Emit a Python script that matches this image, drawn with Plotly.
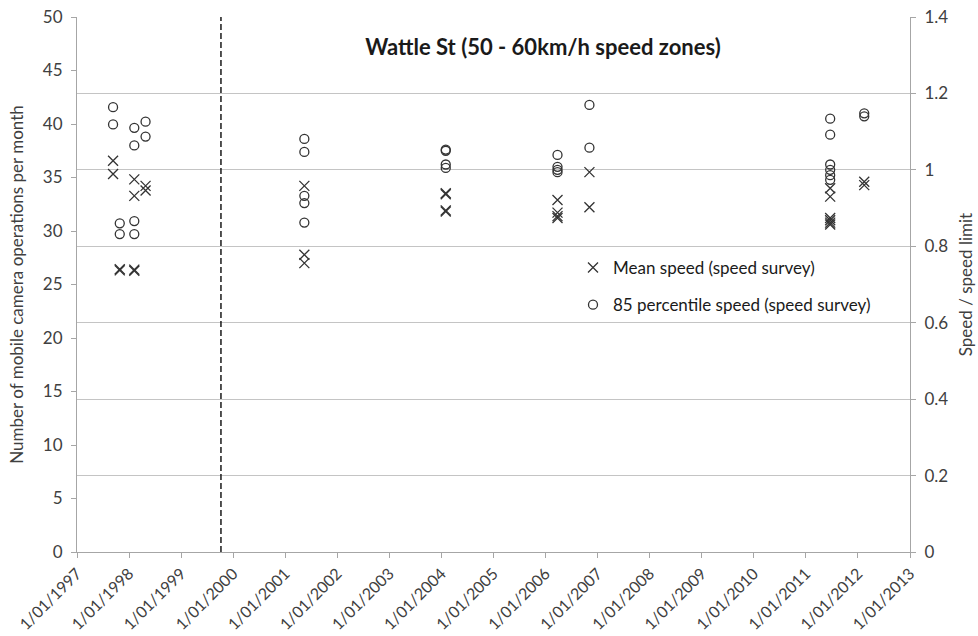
import plotly.graph_objects as go

# ---------------- data ----------------
mean_dates = (["1997-09-11"] * 2 + ["1997-10-28"] * 2 + ["1998-02-07"] * 4 + ["1998-04-27"] * 2 +
              ["2001-05-15"] * 3 + ["2004-02-01"] * 4 + ["2006-03-26"] * 4 + ["2006-11-05"] * 2 +
              ["2011-06-21"] * 6 + ["2012-02-15"] * 2)
mean_ratio = [1.024, 0.989,
              0.740, 0.737,
              0.975, 0.932, 0.739, 0.736,
              0.958, 0.946,
              0.958, 0.778, 0.756,
              0.939, 0.936, 0.894, 0.891,
              0.921, 0.888, 0.879, 0.874,
              0.994, 0.902,
              0.952, 0.930, 0.874, 0.868, 0.862, 0.857,
              0.969, 0.960]

p85_dates = (["1997-09-11"] * 2 + ["1997-10-28"] * 2 + ["1998-02-07"] * 4 + ["1998-04-27"] * 2 +
             ["2001-05-15"] * 5 + ["2004-02-01"] * 4 + ["2006-03-26"] * 4 + ["2006-11-05"] * 2 +
             ["2011-06-21"] * 6 + ["2012-02-15"] * 2)
p85_ratio = [1.164, 1.119,
             0.860, 0.832,
             1.110, 1.064, 0.866, 0.832,
             1.126, 1.087,
             1.081, 1.047, 0.932, 0.913, 0.862,
             1.053, 1.050, 1.014, 1.005,
             1.039, 1.008, 1.000, 0.994,
             1.170, 1.058,
             1.134, 1.092, 1.014, 1.000, 0.986, 0.974,
             1.148, 1.140]

policy_change_date = "1999-10-08"
left_axis_range = [0, 50]
right_axis_range = [0, 1.4]

years = list(range(1997, 2014))
tick_dates = [f"{y}-01-01" for y in years]
tick_labels = [f"1/01/{y}" for y in years]

title_text = "Wattle St (50 - 60km/h speed zones)"
left_title = "Number of mobile camera operations per month"
right_title = "Speed / speed limit"

# ---------------- figure ----------------
FONT = "Lato, Carlito, Calibri, 'Open Sans', sans-serif"
AXIS_COL = "#a6a6a6"
GRID_COL = "#c4c4c4"
TEXT_COL = "#404040"
FS = 17

W, H = 978, 636
L, R, T, B = 77, 68, 17, 84
PW, PH = W - L - R, H - T - B

fig = go.Figure()

# vertical dashed marker line (left axis)
fig.add_trace(go.Scatter(
    x=[policy_change_date, policy_change_date], y=left_axis_range,
    mode="lines", line=dict(color="#1a1a1a", width=1.5, dash="6px,3px"),
    showlegend=False, hoverinfo="skip", yaxis="y"))

fig.add_trace(go.Scatter(
    x=mean_dates, y=mean_ratio, mode="markers", name="Mean speed (speed survey)",
    marker=dict(symbol="x-thin-open", size=10, line=dict(color="#333333", width=1.3), color="#333333"),
    yaxis="y2", legendgroup="a"))

fig.add_trace(go.Scatter(
    x=p85_dates, y=p85_ratio, mode="markers", name="85 percentile speed (speed survey)",
    marker=dict(symbol="circle-open", size=9, line=dict(color="#333333", width=1.3), color="#333333"),
    yaxis="y2", legendgroup="b"))

# white legend background panel (between gridlines and traces)
fig.add_shape(type="rect", xref="paper", yref="paper",
              x0=(578 - L) / PW, x1=(873 - L) / PW,
              y0=(H - B - 338) / PH, y1=(H - B - 252) / PH,
              fillcolor="white", line=dict(width=0), layer="between")

fig.update_layout(
    width=W, height=H,
    margin=dict(l=L, r=R, t=T, b=B, autoexpand=False),
    paper_bgcolor="white", plot_bgcolor="white",
    font=dict(family=FONT, size=FS, color=TEXT_COL),
    title=dict(text="<b>" + title_text + "</b>", x=543 / W, xanchor="center",
               y=1 - 47 / H, yanchor="middle",
               font=dict(family=FONT, size=22, color="#1a1a1a")),
    xaxis=dict(type="date", range=["1997-01-01", "2013-01-01"],
               tickmode="array", tickvals=tick_dates, ticktext=tick_labels,
               tickangle=-45, ticks="outside", ticklen=5, tickcolor=AXIS_COL,
               showline=True, linecolor=AXIS_COL, linewidth=1,
               showgrid=False, zeroline=False, automargin=False,
               tickfont=dict(size=16, color=TEXT_COL)),
    yaxis=dict(range=left_axis_range, dtick=5, tick0=0, ticks="outside", ticklen=5,
               tickcolor=AXIS_COL, showline=True, linecolor=AXIS_COL,
               showgrid=False, zeroline=False, automargin=False, ticklabelstandoff=5,
               title=dict(text=left_title, font=dict(size=FS, color=TEXT_COL), standoff=14),
               tickfont=dict(size=FS, color=TEXT_COL)),
    yaxis2=dict(range=right_axis_range, dtick=0.2, tick0=0, overlaying="y", side="right",
                ticks="outside", ticklen=5, tickcolor=AXIS_COL,
                showline=True, linecolor=AXIS_COL, automargin=False, ticklabelstandoff=5,
                showgrid=True, gridcolor=GRID_COL, gridwidth=1, zeroline=False,
                title=dict(text=right_title, font=dict(size=FS, color=TEXT_COL), standoff=12),
                tickfont=dict(size=FS, color=TEXT_COL)),
    legend=dict(x=(573 - L) / PW, xanchor="left", y=(H - B - 250) / PH, yanchor="top",
                bgcolor="rgba(0,0,0,0)", borderwidth=0, traceorder="grouped", tracegroupgap=12,
                itemwidth=30, font=dict(size=FS, color="#1a1a1a")),
)

fig.write_html("out.html", config={"displayModeBar": False},
               post_script="document.body.style.margin='0';")
